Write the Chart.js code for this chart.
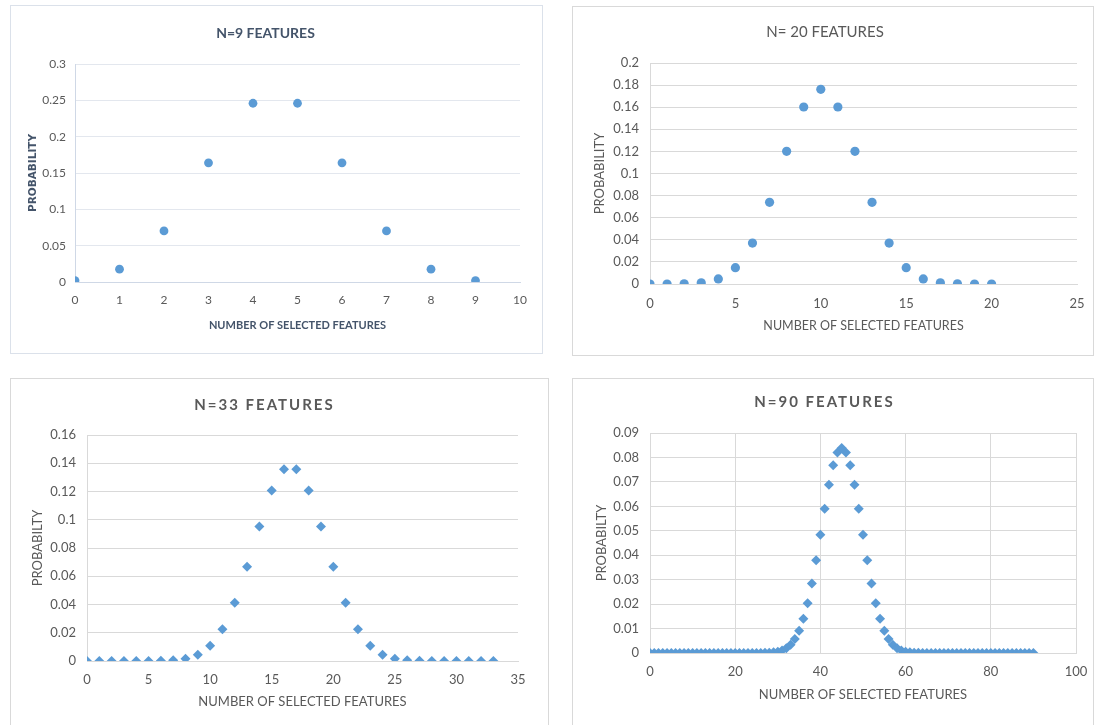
<!DOCTYPE html>
<html><head><meta charset="utf-8">
<script src="https://cdn.jsdelivr.net/npm/chart.js@4.4.1/dist/chart.umd.min.js"></script>
<style>
html,body{margin:0;padding:0;background:#fff;overflow:hidden;width:1095px;height:725px}
.panel{position:absolute;box-sizing:border-box;border:1px solid #d9d9d9;background:#fff;overflow:hidden}
.panel canvas{position:absolute;left:0;top:0}
</style></head><body>
<div class="panel" style="left:10px;top:5px;width:533px;height:349px;border-color:#dbe1ea"><canvas id="c1" width="531" height="347"></canvas></div>
<div class="panel" style="left:572px;top:6px;width:522px;height:350px"><canvas id="c2" width="520" height="348"></canvas></div>
<div class="panel" style="left:10px;top:378px;width:539px;height:352px"><canvas id="c3" width="537" height="346"></canvas></div>
<div class="panel" style="left:572px;top:378px;width:522px;height:352px"><canvas id="c4" width="520" height="346"></canvas></div>
<script>
// ---- data ----
const titles = ['N=9 FEATURES', 'N= 20 FEATURES', 'N=33 FEATURES', 'N=90 FEATURES'];
const xTitle = 'NUMBER OF SELECTED FEATURES';
const yTitles = ['PROBABILITY', 'PROBABILITY', 'PROBABILTY', 'PROBABILTY'];
const xMax = [10, 25, 35, 100];
const xStep = [1, 5, 5, 20];
const yMax = [0.3, 0.2, 0.16, 0.09];
const yStep = [0.05, 0.02, 0.02, 0.01];

const probN9 = [0.002, 0.0176, 0.0703, 0.164, 0.246, 0.246, 0.164, 0.0703, 0.0176, 0.002];
const probN20 = [0.000001, 0.00002, 0.0002, 0.0011, 0.0046, 0.0148, 0.037, 0.0739, 0.1201, 0.1602, 0.1762,
  0.1602, 0.1201, 0.0739, 0.037, 0.0148, 0.0046, 0.0011, 0.0002, 0.00002, 0.000001];
const probN33 = [0, 0, 0, 0.000001, 0.000005, 0.000028, 0.00013, 0.0005, 0.0016, 0.0045, 0.0108, 0.0225,
  0.0413, 0.0667, 0.0953, 0.1207, 0.1358, 0.1358, 0.1207, 0.0953, 0.0667, 0.0413, 0.0225, 0.0108, 0.0045,
  0.0016, 0.0005, 0.00013, 0.000028, 0.000005, 0.000001, 0, 0, 0];
const probN90 = [0, 0, 0, 0, 0, 0, 0, 0, 0, 0, 0, 0, 0, 0, 0, 0, 0, 0, 0, 0, 0, 0, 0, 0, 0, 0,
  0.00002, 0.00006, 0.00013, 0.00027, 0.00054, 0.00105, 0.00194, 0.00341, 0.00572, 0.00915,
  0.01398, 0.0204, 0.02845, 0.03793, 0.04836, 0.05898, 0.06881, 0.07681, 0.08205, 0.08387,
  0.08205, 0.07681, 0.06881, 0.05898, 0.04836, 0.03793, 0.02845, 0.0204, 0.01398, 0.00915,
  0.00572, 0.00341, 0.00194, 0.00105, 0.00054, 0.00027, 0.00013, 0.00006, 0.00002,
  0, 0, 0, 0, 0, 0, 0, 0, 0, 0, 0, 0, 0, 0, 0, 0, 0, 0, 0, 0, 0, 0, 0, 0, 0, 0];
const series = [probN9, probN20, probN33, probN90];

// ---- styling / layout (not data) ----
const BLUE = '#5b9bd5';
const GRAY = '#595959';
const layoutCfg = [
  {yW:64, xH:71, right:22, tPad:[18.6,22.6], xtPad:21.4, ytPad:15.6, xtk:11, ytk:9, tickSize:12,
   titleFont:{family:"Lato, sans-serif", size:14, weight:'bold'}, titleColor:'#44546a', spacing:0,
   axTitleFont:{family:"Lato, sans-serif", size:11, weight:'bold'},
   yTitleFont:{family:"'DejaVu Sans', sans-serif", size:10.5, weight:'bold'}, axTitleColor:'#44546a',
   point:'circle', r:4.4, gridX:false, gridColor:'#e3e7ee', axisColor:'#cfd8e6', ySpacing:0.6},
  {yW:77, xH:71, right:16, tPad:[16,22], xtPad:21.5, ytPad:19.2, xtk:12, ytk:11, tickSize:13,
   titleFont:{family:"Lato, sans-serif", size:15, weight:'normal'}, titleColor:GRAY, spacing:0,
   axTitleFont:{family:"Lato, sans-serif", size:12.5}, yTitleFont:{family:"Lato, sans-serif", size:13}, axTitleColor:GRAY,
   point:'circle', r:4.6, gridX:false, gridColor:'#d9d9d9', axisColor:'#d9d9d9'},
  {yW:76, xH:64, right:30, tPad:[17,21], xtPad:15.2, ytPad:19.2, xtk:11, ytk:11, tickSize:13,
   titleFont:{family:"Lato, sans-serif", size:15, weight:'bold'}, titleColor:GRAY, spacing:2,
   axTitleFont:{family:"Lato, sans-serif", size:13}, yTitleFont:{family:"Lato, sans-serif", size:13}, axTitleColor:GRAY,
   point:'rectRot', r:5, gridX:false, gridColor:'#d9d9d9', axisColor:'#d9d9d9'},
  {yW:77, xH:72, right:17, tPad:[14,22], xtPad:22.2, ytPad:21.2, xtk:11, ytk:11, tickSize:13,
   titleFont:{family:"Lato, sans-serif", size:15, weight:'bold'}, titleColor:GRAY, spacing:2,
   axTitleFont:{family:"Lato, sans-serif", size:13}, yTitleFont:{family:"Lato, sans-serif", size:13}, axTitleColor:GRAY,
   point:'rectRot', r:5, gridX:true, gridColor:'#d9d9d9', axisColor:'#d9d9d9'}
];

const fmt = v => String(parseFloat(Number(v).toFixed(5)));

function makeChart(i) {
  const L = layoutCfg[i];
  const pts = series[i].map((v, k) => ({x: k, y: v}));
  const ctx = document.getElementById('c' + (i + 1));
  const chart = new Chart(ctx, {
    type: 'scatter',
    data: {datasets: [{data: pts, pointStyle: L.point, pointRadius: L.r, pointHoverRadius: L.r,
      pointBackgroundColor: BLUE, pointBorderColor: BLUE, pointBorderWidth: 0, showLine: false}]},
    options: {
      responsive: false, animation: false, devicePixelRatio: 1,
      layout: {padding: {left: 0, right: L.right, top: 0, bottom: 0}},
      plugins: {
        legend: {display: false}, tooltip: {enabled: false},
        title: {display: true, text: titles[i], font: L.titleFont, color: L.titleColor,
          padding: {top: L.tPad[0], bottom: L.tPad[1]}}
      },
      scales: {
        x: {type: 'linear', min: 0, max: xMax[i],
          ticks: {stepSize: xStep[i], padding: 0, color: GRAY, font: {family: 'Lato, sans-serif', size: L.tickSize}, callback: fmt, maxRotation: 0},
          grid: {display: L.gridX, color: L.gridColor, drawTicks: true, tickLength: L.xtk, tickColor: 'rgba(0,0,0,0)'},
          border: {display: true, color: L.axisColor},
          title: {display: true, text: xTitle, color: L.axTitleColor, font: L.axTitleFont, padding: {top: 0, bottom: L.xtPad}},
          afterFit: s => { s.height = L.xH; }},
        y: {type: 'linear', min: 0, max: yMax[i],
          ticks: {stepSize: yStep[i], padding: L.ytk, color: GRAY, font: {family: 'Lato, sans-serif', size: L.tickSize}, callback: fmt},
          grid: {display: true, color: L.gridColor, drawTicks: false},
          border: {display: true, color: L.axisColor},
          title: {display: true, text: yTitles[i], color: L.axTitleColor, font: L.yTitleFont, padding: {top: L.ytPad, bottom: 0}},
          afterFit: s => { s.width = L.yW; }}
      }
    }
  });
  if (L.spacing && chart.titleBlock) {
    const tb = chart.titleBlock;
    const orig = tb.draw.bind(tb);
    tb.draw = function (area) {
      const c = chart.ctx; c.save(); c.letterSpacing = L.spacing + 'px'; orig(area); c.restore();
    };
    chart.draw();
  }
  return chart;
}
for (let i = 0; i < 4; i++) makeChart(i);
</script>
</body></html>
